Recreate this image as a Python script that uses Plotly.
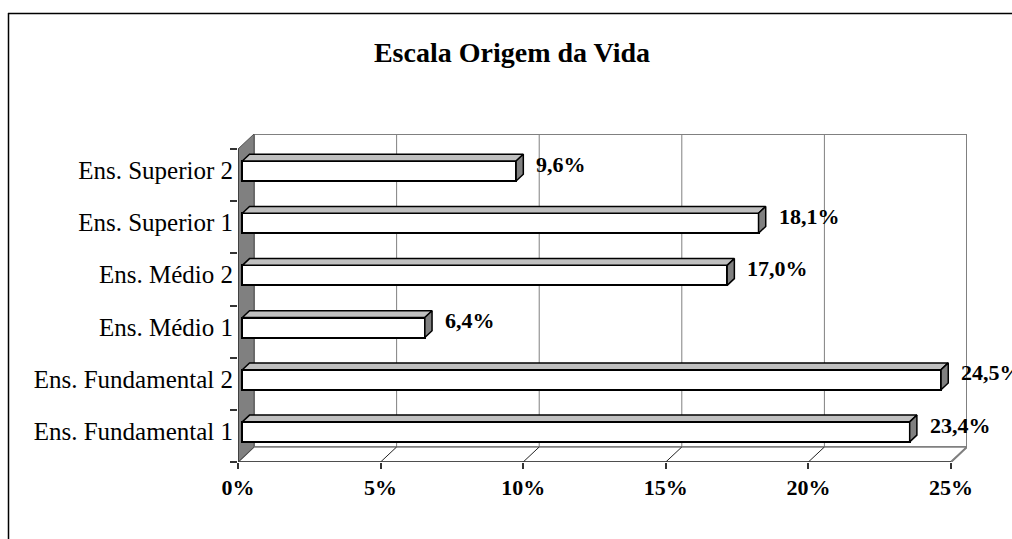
import plotly.graph_objects as go

# ---- data ----
categories = ["Ens. Fundamental 1", "Ens. Fundamental 2", "Ens. Médio 1",
              "Ens. Médio 2", "Ens. Superior 1", "Ens. Superior 2"]
values = [23.4, 24.5, 6.4, 17.0, 18.1, 9.6]
x_ticks = [0, 5, 10, 15, 20, 25]
x_tick_labels = ["0%", "5%", "10%", "15%", "20%", "25%"]
title_text = "Escala Origem da Vida"

# ---- layout / 3D geometry constants ----
W, H = 1012, 539
ML, MR, MT, MB = 238, 45, 134, 77
XMAX = 25
DX = 0.5614   # depth offset in x data units
DY = 0.288    # depth offset in y data units
D1, D2 = 0.27, 0.72   # bar front/back depth fraction
BH = 0.384            # bar height (category units)
n = len(categories)
ybot, ytop = -0.5, n - 0.5

FONT = "Liberation Serif, Times New Roman, serif"
GRAY = "#808080"

fig = go.Figure()

shapes = []
# back wall
shapes.append(dict(type="rect", xref="x", yref="y", x0=DX, x1=XMAX + DX,
                   y0=ybot + DY, y1=ytop + DY, fillcolor="white",
                   line=dict(color=GRAY, width=2), layer="below"))
# back wall gridlines
for t in x_ticks[1:-1]:
    shapes.append(dict(type="line", xref="x", yref="y", x0=t + DX, x1=t + DX,
                       y0=ybot + DY, y1=ytop + DY, line=dict(color=GRAY, width=1),
                       layer="below"))
# floor
shapes.append(dict(type="path", xref="x", yref="y",
                   path=f"M 0 {ybot} L {XMAX} {ybot} L {XMAX+DX} {ybot+DY} L {DX} {ybot+DY} Z",
                   fillcolor="white", line=dict(color=GRAY, width=1.5), layer="below"))
for t in x_ticks:
    shapes.append(dict(type="line", xref="x", yref="y", x0=t, x1=t + DX,
                       y0=ybot, y1=ybot + DY, line=dict(color="#222222", width=1),
                       layer="below"))
shapes.append(dict(type="line", xref="x", yref="y", x0=XMAX, x1=XMAX + DX,
                   y0=ybot, y1=ybot + DY, line=dict(color=GRAY, width=2), layer="below"))
# front floor edge
shapes.append(dict(type="line", xref="x", yref="y", x0=0, x1=XMAX,
                   y0=ybot, y1=ybot, line=dict(color="#333333", width=1.5), layer="below"))
# left side wall
shapes.append(dict(type="path", xref="x", yref="y",
                   path=f"M 0 {ybot} L 0 {ytop} L {DX} {ytop+DY} L {DX} {ybot+DY} Z",
                   fillcolor=GRAY, line=dict(color="#555555", width=1), layer="below"))
shapes.append(dict(type="line", xref="x", yref="y", x0=0, x1=0, y0=ybot, y1=ytop,
                   line=dict(color="#333333", width=1.5), layer="below"))

# outer chart frame (top & left edges, others outside the view)
pw = W - ML - MR
ph = H - MT - MB
def px2paper_x(px):
    return (px - ML) / pw
def py2paper_y(py):
    return (H - MB - py) / ph
shapes.append(dict(type="line", xref="paper", yref="paper",
                   x0=px2paper_x(8), x1=px2paper_x(1020), y0=py2paper_y(13.5), y1=py2paper_y(13.5),
                   line=dict(color="black", width=1.5)))
shapes.append(dict(type="line", xref="paper", yref="paper",
                   x0=px2paper_x(8.5), x1=px2paper_x(8.5), y0=py2paper_y(13), y1=py2paper_y(560),
                   line=dict(color="black", width=1.5)))

# bar front faces
ypos = list(range(n))
fig.add_trace(go.Bar(
    x=values, y=[i + D1 * DY for i in ypos], base=[D1 * DX] * n,
    orientation="h", width=BH,
    marker=dict(color="white", line=dict(color="black", width=2)),
    hoverinfo="skip", showlegend=False))

# bar top & end faces
for i, v in zip(ypos, values):
    yt1 = i + D1 * DY + BH / 2
    yt2 = i + D2 * DY + BH / 2
    yb1 = i + D1 * DY - BH / 2
    yb2 = i + D2 * DY - BH / 2
    xs1 = D1 * DX
    xs2 = D2 * DX
    xe1 = v + D1 * DX
    xe2 = v + D2 * DX
    fig.add_trace(go.Scatter(
        x=[xs1, xe1, xe2, xs2, xs1], y=[yt1, yt1, yt2, yt2, yt1],
        fill="toself", fillcolor="#c0c0c0", mode="lines",
        line=dict(color="black", width=1.5), hoverinfo="skip", showlegend=False))
    fig.add_trace(go.Scatter(
        x=[xe1, xe1, xe2, xe2, xe1], y=[yb1, yt1, yt2, yb2, yb1],
        fill="toself", fillcolor=GRAY, mode="lines",
        line=dict(color="black", width=1.5), hoverinfo="skip", showlegend=False))

# data labels
annotations = []
for i, v in zip(ypos, values):
    annotations.append(dict(
        x=v + D2 * DX, y=i + D2 * DY, xref="x", yref="y",
        text="<b>" + f"{v:.1f}%".replace(".", ",") + "</b>",
        showarrow=False, xanchor="left", yanchor="middle", xshift=11,
        font=dict(family=FONT, size=22, color="black")))

fig.update_layout(
    width=W, height=H, autosize=False,
    margin=dict(l=ML, r=MR, t=MT, b=MB, autoexpand=False),
    paper_bgcolor="white", plot_bgcolor="white",
    shapes=shapes, annotations=annotations,
    title=dict(text="<b>" + title_text + "</b>", x=512 / W, xanchor="center",
               y=1 - 52 / H, yanchor="middle",
               font=dict(family=FONT, size=28, color="black")),
    bargap=0,
    xaxis=dict(range=[0, XMAX + DX], tickvals=x_ticks, ticktext=["<b>" + t + "</b>" for t in x_tick_labels],
               ticks="outside", ticklen=6, tickcolor="#333333", tickwidth=1.5,
               showgrid=False, zeroline=False, showline=False, fixedrange=True,
               tickfont=dict(family=FONT, size=22, color="black")),
    yaxis=dict(range=[ybot, ytop + DY], tickvals=[i + 0.09 for i in ypos], ticktext=categories,
               ticks="", showgrid=False, zeroline=False, showline=False, fixedrange=True,
               ticklabelstandoff=4,
               minor=dict(tickmode="array", tickvals=[k - 0.5 for k in range(n + 1)],
                          ticks="outside", ticklen=7, tickcolor="#333333", tickwidth=1.5,
                          showgrid=False),
               tickfont=dict(family=FONT, size=25, color="black")),
)

fig.write_html("out.html", config={"displayModeBar": False},
               post_script="document.body.style.margin='0';document.body.style.overflow='hidden';")
